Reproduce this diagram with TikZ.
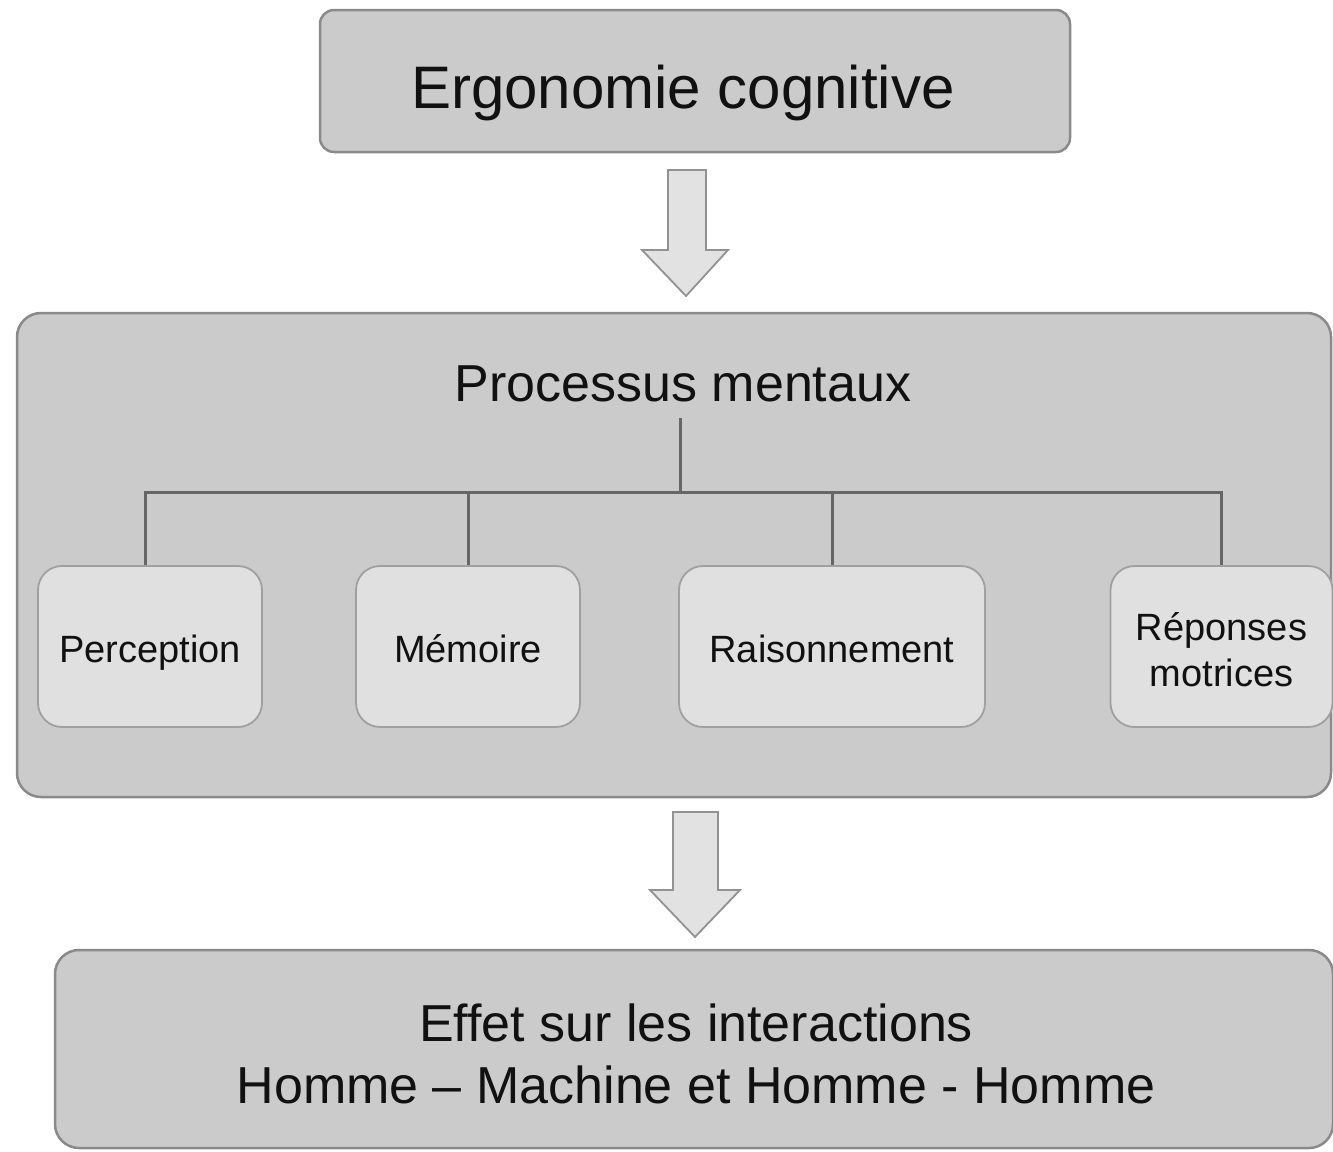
\documentclass[tikz,border=0pt]{standalone}
\usepackage{fontspec}
\setmainfont{Liberation Sans}
\definecolor{boxfill}{HTML}{CBCBCB}
\definecolor{boxline}{HTML}{8A8A8A}
\definecolor{subfill}{HTML}{E0E0E0}
\definecolor{subline}{HTML}{A0A0A0}
\definecolor{arrfill}{HTML}{E2E2E2}
\definecolor{arrline}{HTML}{929292}
\definecolor{treeline}{HTML}{666666}
\definecolor{txt}{HTML}{111111}
\tikzset{
  bigbox/.style={draw=boxline, line width=2.5pt, fill=boxfill, rounded corners=14pt, inner sep=0pt, text=txt},
  subbox/.style={draw=subline, line width=1.8pt, fill=subfill, rounded corners=24pt, inner sep=0pt, minimum height=161pt, text=txt, align=center,
    font=\fontsize{38}{46}\selectfont},
  onebase/.style={text height=31pt, text depth=0pt},
  treeln/.style={draw=treeline, line width=3pt},
  blockarrow/.style={draw=arrline, line width=1.8pt, fill=arrfill, line join=miter},
}
\begin{document}
\begin{tikzpicture}[x=1pt,y=-1pt]
\useasboundingbox[fill=white] (0,0) rectangle (1333,1151);
% top box
\node[bigbox, minimum width=750pt, minimum height=142pt, text height=54pt, text depth=0pt, font=\fontsize{60}{72}\selectfont] (top) at (695,81) {\hspace*{-24pt}Ergonomie cognitive};
% middle box
\node[bigbox, rounded corners=24pt, minimum width=1314pt, minimum height=484pt] (mid) at (674,555) {};
\node[text=txt, font=\fontsize{52}{62}\selectfont, inner sep=0pt] (pm) at (683,384) {Processus mentaux};
% sub boxes
\node[subbox, onebase, minimum width=224pt] (perc) at (150,646.5) {Perception};
\node[subbox, onebase, minimum width=224pt] (mem) at (468,646.5) {Mémoire};
\node[subbox, onebase, minimum width=306pt] (rais) at (832,646.5) {Raisonnement};
\node[subbox, minimum width=222pt] (rep) at (1221.5,646.5) {\rule{0pt}{34pt}Réponses\\motrices};
% tree
\coordinate (pmbot) at (680,418);
\coordinate (hub) at (680,492);
\draw[treeln] (pmbot) -- (hub);
\draw[treeln] (hub) -| ([xshift=-5pt]perc.north);
\draw[treeln] (hub) -| (mem.north);
\draw[treeln] (hub) -| (rais.north);
\draw[treeln] (hub) -| (rep.north);
% bottom box
\node[bigbox, rounded corners=24pt, minimum width=1278pt, minimum height=198pt] (bot) at (694,1049) {};
\node[text=txt, align=center, inner sep=0pt, font=\fontsize{52}{62}\selectfont] (bottxt) at (696,1054) {Effet sur les interactions\\Homme – Machine et Homme - Homme};
% block arrows
\coordinate (a1) at (686,170);
\coordinate (a2) at (695,812);
\draw[blockarrow] (a1) ++(-18,0) -- ++(38,0) -- ++(0,80) -- ++(22,0) -- (686,296) -- (642,250) -- (668,250) -- cycle;
\draw[blockarrow] (a2) ++(-22,0) -- ++(45,0) -- ++(0,78) -- ++(22,0) -- (695,937) -- (650,890) -- (673,890) -- cycle;
\end{tikzpicture}
\end{document}
